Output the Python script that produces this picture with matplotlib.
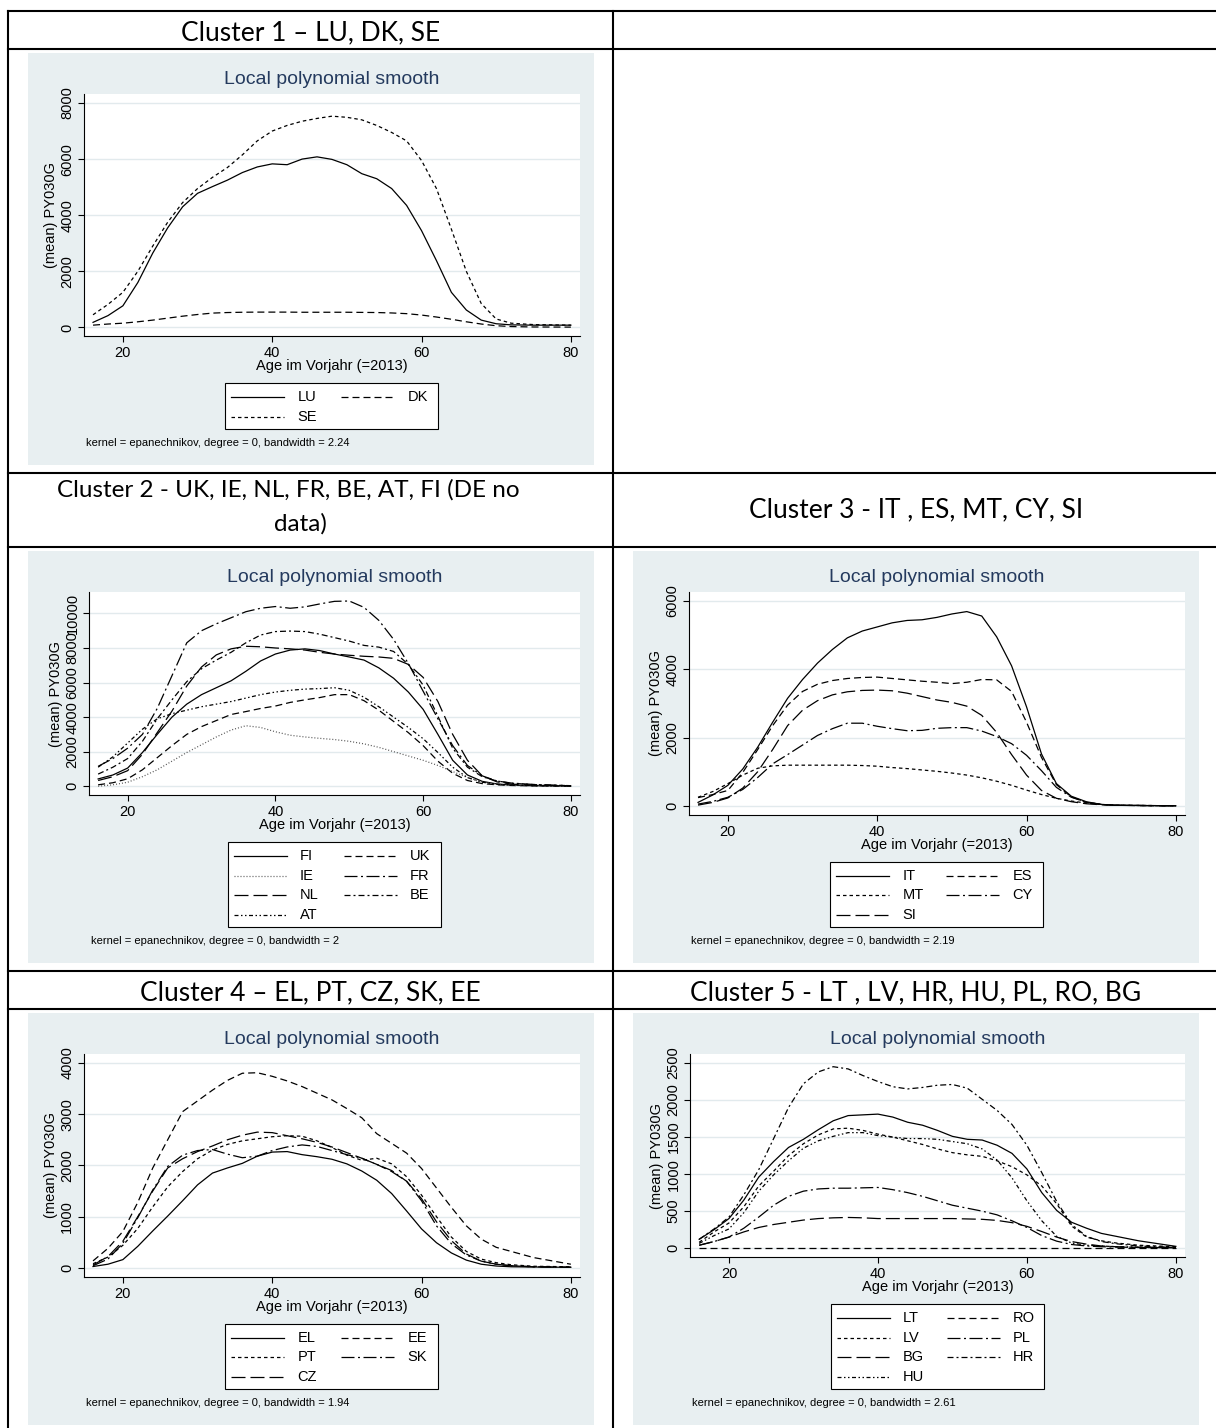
import matplotlib
matplotlib.use("Agg")
import matplotlib.pyplot as plt
from matplotlib.patches import Rectangle
from matplotlib.lines import Line2D

plt.rcParams["font.family"] = ["Liberation Sans", "DejaVu Sans"]

W, H = 1216, 1428
BG = "#E8EFF1"
GRID = "#E2EAED"
NAVY = "#243A5E"
LW = 0.9

# ages at which the smoothed curves are read
AGES = [16, 18, 20, 22, 24, 26, 28, 30, 32, 34, 36, 38, 40, 42, 44, 46, 48, 50,
        52, 54, 56, 58, 60, 62, 64, 66, 68, 70, 72, 75, 80]

# Cluster 1
LU = [180, 420, 770, 1600, 2650, 3550, 4300, 4780, 5020, 5250, 5520, 5720, 5830, 5800, 6000, 6080, 5990, 5800,
      5480, 5300, 4950, 4350, 3450, 2380, 1250, 620, 260, 130, 90, 80, 80]
DK = [80, 120, 150, 200, 260, 330, 400, 460, 510, 530, 540, 545, 545, 545, 540, 540, 540, 540,
      535, 530, 515, 490, 440, 370, 290, 200, 120, 60, 30, 15, 10]
SE = [450, 820, 1250, 2000, 2900, 3750, 4450, 4950, 5350, 5700, 6150, 6650, 7000, 7200, 7350, 7450, 7530, 7490,
      7400, 7200, 6950, 6650, 5950, 4950, 3500, 2000, 850, 300, 150, 100, 80]

# Cluster 2
FI = [420, 650, 1050, 1950, 3000, 4000, 4750, 5300, 5700, 6100, 6650, 7250, 7650, 7880, 7950, 7850, 7650, 7480,
      7300, 6850, 6250, 5450, 4450, 3000, 1500, 650, 280, 130, 70, 30, 10]
UK = [80, 200, 430, 950, 1650, 2350, 3000, 3450, 3800, 4150, 4320, 4500, 4640, 4850, 5000, 5130, 5300, 5300,
      4950, 4400, 3750, 3100, 2350, 1450, 750, 330, 150, 80, 40, 20, 5]
IE = [0, 80, 230, 550, 950, 1450, 1950, 2400, 2850, 3250, 3500, 3400, 3150, 2950, 2850, 2770, 2700, 2600,
      2450, 2250, 2000, 1750, 1500, 1200, 850, 500, 250, 110, 50, 20, 0]
FR = [1150, 1600, 2200, 3000, 4500, 6400, 8300, 9000, 9400, 9750, 10100, 10300, 10400, 10300, 10380, 10550, 10700, 10720,
      10350, 9600, 8500, 7100, 5500, 3900, 2350, 1200, 600, 300, 180, 100, 30]
NL = [330, 550, 900, 1850, 3100, 4350, 5800, 6900, 7600, 7950, 8100, 8070, 8000, 7950, 7880, 7750, 7650, 7580,
      7520, 7480, 7400, 7050, 6300, 4900, 3000, 1500, 600, 250, 120, 60, 20]
BE = [700, 1100, 1600, 2600, 3900, 5000, 6050, 6800, 7300, 7750, 8300, 8750, 8950, 8980, 8950, 8800, 8600, 8400,
      8150, 8050, 7800, 7050, 5850, 4050, 2200, 1100, 550, 300, 170, 90, 30]
AT = [1100, 1700, 2500, 3300, 3900, 4200, 4400, 4600, 4750, 4900, 5100, 5300, 5450, 5550, 5620, 5650, 5700, 5550,
      5150, 4600, 4000, 3400, 2750, 1950, 1100, 500, 230, 110, 60, 30, 10]

# Cluster 3
IT = [100, 320, 600, 1080, 1720, 2450, 3150, 3700, 4180, 4580, 4920, 5120, 5240, 5360, 5430, 5450, 5520, 5620,
      5690, 5560, 4950, 4100, 2900, 1520, 650, 280, 120, 40, 15, 10, 0]
ES = [240, 330, 450, 980, 1650, 2350, 2950, 3350, 3560, 3670, 3730, 3760, 3770, 3730, 3690, 3650, 3620, 3580,
      3620, 3700, 3690, 3350, 2450, 1420, 620, 260, 100, 40, 15, 10, 0]
MT = [250, 420, 650, 900, 1100, 1170, 1190, 1190, 1190, 1190, 1190, 1180, 1160, 1120, 1090, 1050, 1010, 960,
      900, 820, 720, 600, 460, 330, 220, 140, 80, 40, 20, 10, 0]
CY = [50, 130, 250, 480, 830, 1230, 1500, 1780, 2060, 2260, 2420, 2420, 2330, 2260, 2200, 2210, 2270, 2290,
      2290, 2190, 2030, 1820, 1480, 1030, 540, 250, 110, 40, 15, 10, 0]
SI = [20, 100, 230, 520, 1000, 1650, 2350, 2800, 3080, 3250, 3340, 3380, 3390, 3370, 3300, 3200, 3100, 3030,
      2920, 2650, 2150, 1500, 900, 450, 220, 120, 60, 30, 15, 5, 0]

# Cluster 4
EL = [25, 70, 160, 420, 720, 1010, 1310, 1620, 1850, 1950, 2040, 2180, 2260, 2270, 2210, 2170, 2120, 2030,
      1890, 1710, 1450, 1110, 760, 490, 290, 150, 70, 35, 20, 15, 10]
EE = [135, 380, 710, 1280, 1950, 2500, 3050, 3260, 3470, 3660, 3800, 3810, 3740, 3650, 3540, 3410, 3280, 3110,
      2930, 2620, 2430, 2240, 1940, 1560, 1180, 820, 560, 400, 320, 200, 70]
PT = [80, 210, 440, 770, 1190, 1580, 1880, 2130, 2300, 2410, 2480, 2520, 2560, 2580, 2570, 2480, 2350, 2200,
      2100, 2140, 2030, 1780, 1420, 1000, 600, 320, 170, 100, 60, 30, 20]
SK = [40, 170, 480, 980, 1520, 1980, 2200, 2290, 2310, 2220, 2150, 2180, 2290, 2360, 2400, 2370, 2290, 2210,
      2140, 2020, 1900, 1690, 1310, 820, 470, 250, 130, 70, 40, 20, 10]
CZ = [55, 220, 520, 1000, 1500, 1950, 2130, 2270, 2380, 2500, 2590, 2650, 2640, 2580, 2520, 2450, 2360, 2250,
      2140, 2020, 1880, 1690, 1350, 900, 530, 270, 130, 70, 40, 20, 10]

# Cluster 5
LT = [120, 250, 400, 650, 960, 1170, 1360, 1470, 1600, 1720, 1790, 1800, 1810, 1770, 1700, 1660, 1590, 1510,
      1470, 1460, 1390, 1280, 1070, 750, 510, 350, 270, 200, 160, 100, 25]
RO = [5, 5, 5, 5, 5, 5, 5, 5, 5, 5, 5, 5, 5, 5, 5, 5, 5, 5,
      5, 5, 5, 5, 5, 5, 5, 5, 5, 5, 5, 5, 5]
LV = [80, 220, 340, 560, 840, 1040, 1250, 1410, 1530, 1610, 1620, 1590, 1540, 1500, 1450, 1400, 1340, 1290,
      1260, 1240, 1180, 1100, 990, 840, 600, 300, 150, 100, 70, 40, 20]
PL = [40, 90, 150, 270, 420, 580, 700, 770, 800, 810, 810, 815, 820, 790, 750, 700, 640, 580,
      540, 500, 450, 370, 280, 170, 95, 50, 30, 20, 15, 10, 10]
BG_ = [40, 90, 150, 220, 280, 320, 350, 380, 400, 410, 415, 410, 400, 400, 400, 400, 400, 400,
       395, 390, 375, 345, 295, 225, 150, 90, 55, 30, 20, 10, 5]
HR = [120, 260, 420, 720, 1060, 1480, 1900, 2220, 2380, 2450, 2420, 2330, 2250, 2180, 2150, 2170, 2200, 2210,
      2160, 2010, 1860, 1670, 1390, 1020, 630, 320, 160, 90, 60, 30, 10]
HU = [65, 170, 260, 480, 770, 990, 1180, 1350, 1450, 1510, 1560, 1560, 1520, 1500, 1480, 1480, 1470, 1440,
      1410, 1340, 1190, 950, 640, 370, 160, 70, 40, 30, 20, 15, 10]

HEADERS = ["Cluster 1 \u2013 LU, DK, SE",
           "Cluster 2 - UK, IE, NL, FR, BE, AT, FI (DE no", "data)",
           "Cluster 3 - IT , ES, MT, CY, SI",
           "Cluster 4 \u2013 EL, PT, CZ, SK, EE",
           "Cluster 5 - LT , LV, HR, HU, PL, RO, BG"]

# Stata line patterns, lengths in pixels
PATTERNS = {
    "solid": None,
    "dash": (7, 4),
    "shortdash": (3.5, 3),
    "dot": (1, 2),
    "longdash": (14, 5),
    "longdash_dot": (13, 3.5, 2, 3.5),
    "shortdash_dot": (6, 3, 2, 3),
    "dash_3dot": (4, 2.5, 1.5, 2.5, 1.5, 2.5),
}


def fx(px):
    return px / W


def fy(py):
    return 1 - py / H


def estilo(nome):
    pat = PATTERNS[nome]
    if pat is None:
        return "-"
    return (0, tuple(p * 0.72 / LW for p in pat))


def desenhar_tabela(fig):
    kw = dict(color="black", lw=1.5, transform=fig.transFigure, solid_capstyle="projecting")
    for y in (11, 49, 473, 547, 971, 1009):
        fig.add_artist(Line2D([fx(8), fx(1220)], [fy(y), fy(y)], **kw))
    for x in (8, 613):
        fig.add_artist(Line2D([fx(x), fx(x)], [fy(11), fy(1440)], **kw))

    tkw = dict(family=["Lato", "DejaVu Sans"], fontsize=19, ha="center", va="baseline")
    fig.text(fx(311), fy(40), HEADERS[0], **tkw)
    tkw2 = dict(tkw, fontsize=17.5)
    fig.text(fx(288), fy(497), HEADERS[1], **tkw2)
    fig.text(fx(300), fy(531), HEADERS[2], **tkw2)
    fig.text(fx(916), fy(517), HEADERS[3], **tkw)
    fig.text(fx(310), fy(1000), HEADERS[4], **tkw)
    fig.text(fx(916), fy(1000), HEADERS[5], **tkw)


def desenhar_painel(fig, L, T, series, yticks, ymax, bw, esq=0.099):
    w, h = 566, 412
    fig.add_artist(Rectangle((fx(L), fy(T + h)), w / W, h / H, transform=fig.transFigure,
                             facecolor=BG, edgecolor="none", zorder=0))

    rows = (len(series) + 1) // 2
    leg_h = 26 + (rows - 1) * 19.6
    leg_bot = T + 376
    leg_top = leg_bot - leg_h
    ax_bot = leg_top - 47
    ax_top = T + 41
    ax_l = L + esq * w
    ax_r = L + 0.975 * w
    cx = (ax_l + ax_r) / 2

    ax = fig.add_axes([fx(ax_l), fy(ax_bot), (ax_r - ax_l) / W, (ax_bot - ax_top) / H])
    ax.set_facecolor("white")

    for nome, vals, pad in series:
        cor = "#555555" if pad == "dot" else "black"
        ax.plot(AGES, vals, color=cor, lw=LW, linestyle=estilo(pad))

    # Stata plot region margin (~9 px each side)
    mx = 9 * (80 - 16) / (ax_r - ax_l - 18)
    my = 9 * ymax / (ax_bot - ax_top - 18)
    ax.set_xlim(16 - mx, 80 + mx)
    ax.set_ylim(-my, ymax + my)

    ax.set_xticks([20, 40, 60, 80])
    ax.set_yticks(yticks)
    ax.set_yticklabels([str(t) for t in yticks], rotation=90, va="center")
    ax.tick_params(direction="out", length=4, width=0.8, labelsize=10.5, pad=3)
    ax.yaxis.grid(True, color=GRID, lw=1.0)
    ax.set_axisbelow(True)
    for s in ("top", "right"):
        ax.spines[s].set_visible(False)
    for s in ("left", "bottom"):
        ax.spines[s].set_linewidth(0.8)
    ax.set_ylabel("(mean) PY030G", fontsize=10.5, labelpad=2)

    fig.text(fx(cx), fy(T + 27), "Local polynomial smooth", ha="center", va="center",
             fontsize=14, color=NAVY)
    fig.text(fx(cx), fy(ax_bot + 30), "Age im Vorjahr (=2013)", ha="center", va="center", fontsize=10.5)

    # legenda no estilo Stata (2 colunas, preenchida por linha)
    leg_l = cx - 106.5
    fig.add_artist(Rectangle((fx(leg_l), fy(leg_bot)), 213 / W, leg_h / H, transform=fig.transFigure,
                             facecolor="white", edgecolor="black", lw=0.8))
    for i, (nome, vals, pad) in enumerate(series):
        r, c = divmod(i, 2)
        yc = leg_top + 14 + 19.6 * r
        x0 = leg_l + 6 + 110 * c
        cor = "#555555" if pad == "dot" else "black"
        fig.add_artist(Line2D([fx(x0), fx(x0 + 53)], [fy(yc), fy(yc)], color=cor, lw=LW,
                              linestyle=estilo(pad), transform=fig.transFigure))
        fig.text(fx(x0 + 66), fy(yc), nome, ha="left", va="center", fontsize=10.5)

    fig.text(fx(ax_l + 2), fy(leg_bot + 13.5),
             f"kernel = epanechnikov, degree = 0, bandwidth = {bw}", ha="left", va="center", fontsize=8)


def main():
    fig = plt.figure(figsize=(W / 100, H / 100), dpi=100)
    fig.patch.set_facecolor("white")
    desenhar_tabela(fig)

    p1 = [("LU", LU, "solid"), ("DK", DK, "dash"), ("SE", SE, "shortdash")]
    p2 = [("FI", FI, "solid"), ("UK", UK, "dash"), ("IE", IE, "dot"), ("FR", FR, "longdash_dot"),
          ("NL", NL, "longdash"), ("BE", BE, "shortdash_dot"), ("AT", AT, "dash_3dot")]
    p3 = [("IT", IT, "solid"), ("ES", ES, "dash"), ("MT", MT, "shortdash"), ("CY", CY, "longdash_dot"),
          ("SI", SI, "longdash")]
    p4 = [("EL", EL, "solid"), ("EE", EE, "dash"), ("PT", PT, "shortdash"), ("SK", SK, "longdash_dot"),
          ("CZ", CZ, "longdash")]
    p5 = [("LT", LT, "solid"), ("RO", RO, "dash"), ("LV", LV, "shortdash"), ("PL", PL, "longdash_dot"),
          ("BG", BG_, "longdash"), ("HR", HR, "shortdash_dot"), ("HU", HU, "dash_3dot")]

    desenhar_painel(fig, 28, 53, p1, [0, 2000, 4000, 6000, 8000], 8000, "2.24")
    desenhar_painel(fig, 28, 551, p2, [0, 2000, 4000, 6000, 8000, 10000], max(FR), "2", esq=0.108)
    desenhar_painel(fig, 633, 551, p3, [0, 2000, 4000, 6000], 6000, "2.19")
    desenhar_painel(fig, 28, 1013, p4, [0, 1000, 2000, 3000, 4000], 4000, "1.94")
    desenhar_painel(fig, 633, 1013, p5, [0, 500, 1000, 1500, 2000, 2500], 2500, "2.61", esq=0.101)

    fig.savefig("out.png", dpi=100)
    plt.close(fig)


if __name__ == "__main__":
    main()
